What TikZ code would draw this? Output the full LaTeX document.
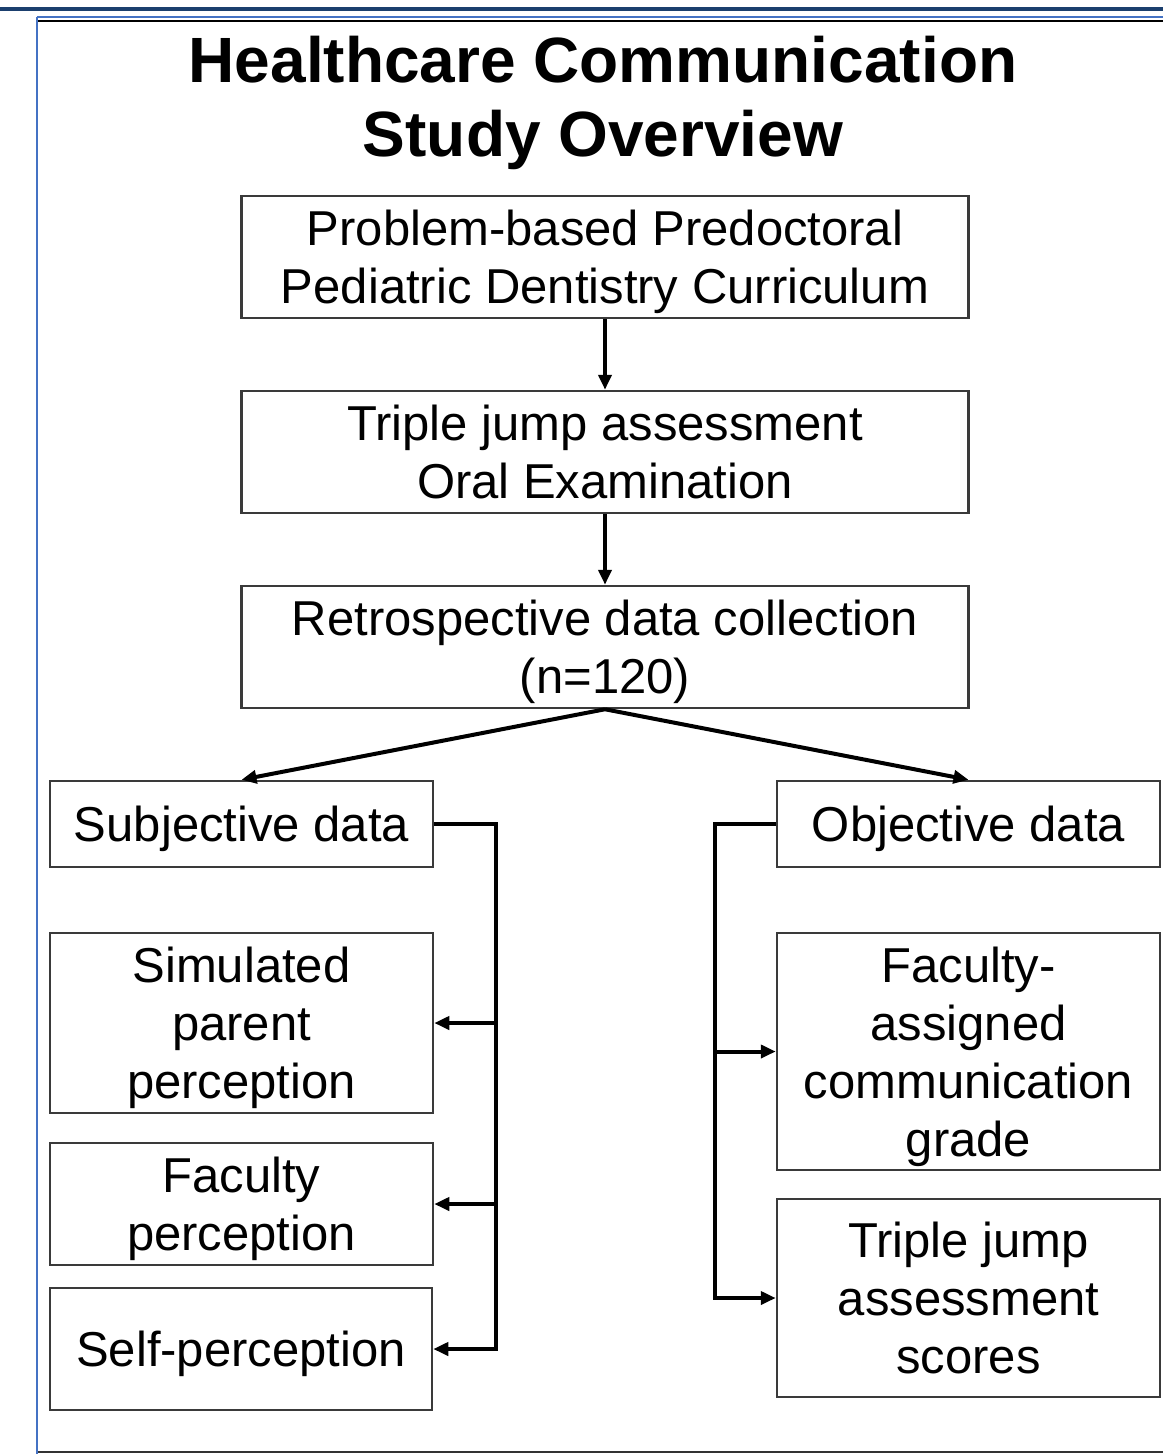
\documentclass[tikz,border=0pt]{standalone}
\usepackage{fontspec}
\setmainfont{Liberation Sans}
\usepackage{xcolor}
\usepackage{tikz}
\usetikzlibrary{positioning}
\usetikzlibrary{arrows.meta}

\definecolor{navy}{HTML}{1B3F6E}
\definecolor{frameblue}{HTML}{4472C4}
\definecolor{boxgray}{HTML}{3A3A3A}

\tikzset{
  box/.style={draw=boxgray, line width=2.5pt, align=center, inner sep=0pt,
    text depth=-3.5pt, font=\fontsize{49}{58}\selectfont},
  arr/.style={line width=4pt, -{Triangle[length=15pt,width=13pt]}},
}

\begin{document}
\begin{tikzpicture}[x=1pt, y=-1pt]

\useasboundingbox (0,0) rectangle (1163,1454);

% frame
\draw [line width=4pt, navy] (0,9) -- (1163,9);
\draw [line width=2pt, frameblue] (37,17) -- (1163,17);
\draw [line width=2.5pt, black] (38,21) -- (1163,21);
\draw [line width=2pt, frameblue] (37,17) -- (37,1454);
\draw [line width=2pt, black!80] (38,1452) -- (1163,1452);

% title
\node [align=center, inner sep=0pt, font=\fontsize{64}{74}\selectfont\bfseries] at (603, 103) (title) {Healthcare Communication\\Study Overview};

% main column
\node [box, minimum width=727pt, minimum height=122pt] at (605, 257) (curr) {Problem-based Predoctoral\\Pediatric Dentistry Curriculum};
\node [box, minimum width=727pt, minimum height=122pt] at (605, 452) (triple) {Triple jump assessment\\Oral Examination};
\node [box, minimum width=727pt, minimum height=122pt] at (605, 647) (retro) {Retrospective data collection\\(n=120)};
\path [draw, arr] (curr.south) to (triple.north);
\path [draw, arr] (triple.south) to (retro.north);

% subjective side
\node [box, minimum width=383pt, minimum height=86pt] at (241.5, 824) (subj) {Subjective data};
\node [box, minimum width=383pt, minimum height=180pt] at (241.5, 1023) (sim) {Simulated\\parent\\perception};
\node [box, minimum width=383pt, minimum height=122pt] at (241.5, 1204) (facp) {Faculty\\perception};
\node [box, minimum width=382pt, minimum height=122pt] at (241, 1349) (self) {Self-perception};
\path [draw, arr] (retro.south) to (subj.north);

\coordinate (lbus) at (496, 0);
\draw [arr, line join=miter] (subj.east) -| (lbus |- self.east) -- (self.east);
\draw [arr] (lbus |- sim.east) -- (sim.east);
\draw [arr] (lbus |- facp.east) -- (facp.east);

% objective side
\node [box, minimum width=383pt, minimum height=86pt] at (968.5, 824) (obj) {Objective data};
\node [box, minimum width=383pt, minimum height=237pt] at (968.5, 1051.5) (grade) {Faculty-\\assigned\\communication\\grade};
\node [box, minimum width=383pt, minimum height=198pt] at (968.5, 1298) (scores) {Triple jump\\assessment\\scores};
\path [draw, arr] (retro.south) to (obj.north);

\coordinate (rbus) at (715, 0);
\draw [arr, line join=miter] (obj.west) -| (rbus |- scores.west) -- (scores.west);
\draw [arr] (rbus |- grade.west) -- (grade.west);

\end{tikzpicture}
\end{document}
